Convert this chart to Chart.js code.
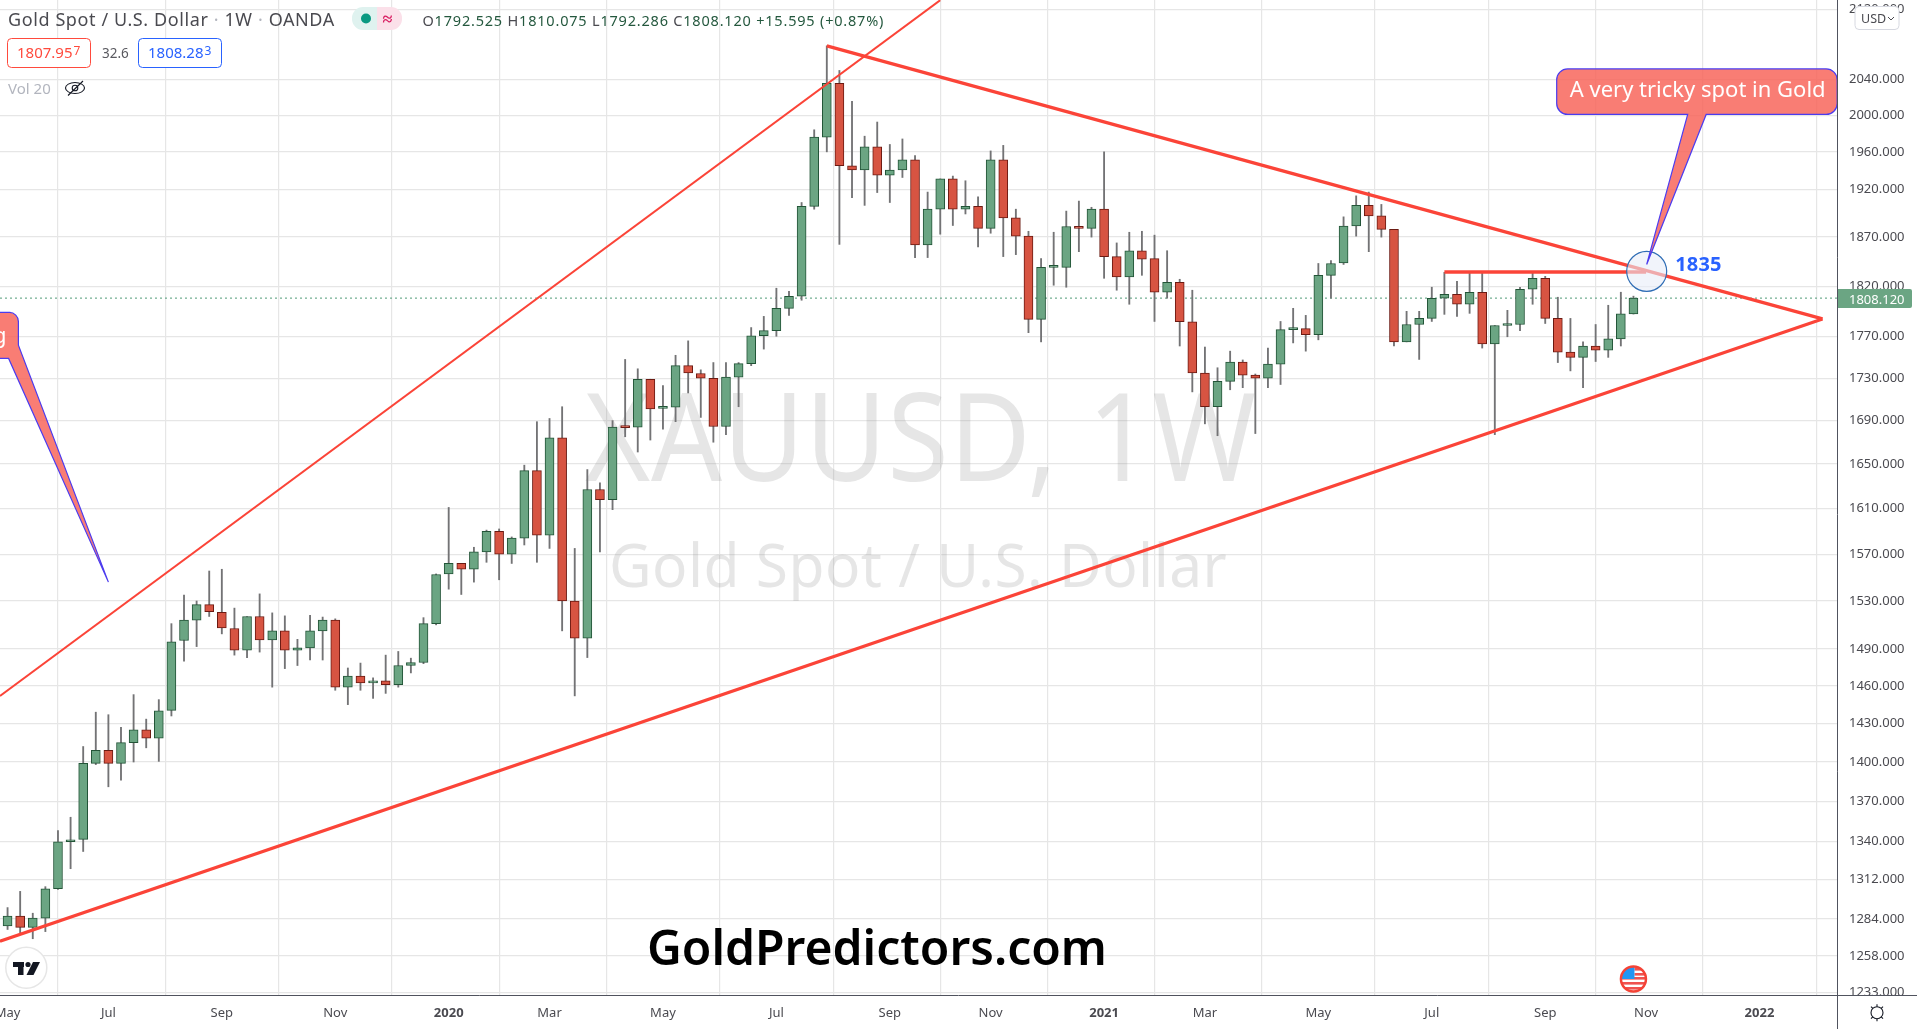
<!DOCTYPE html>
<html>
<head>
<meta charset="utf-8">
<title>Gold Spot / U.S. Dollar</title>
<script src="https://cdn.jsdelivr.net/npm/chart.js@4"></script>
<style>html,body{margin:0;padding:0;background:#fff;overflow:hidden}canvas{display:block}</style>
</head>
<body>
<canvas id="c" width="1917" height="1029"></canvas>
<script>
const opens = [1279,1286,1278,1284.5,1305.5,1339.8,1341.5,1399,1409,1399,1415,1425,1418.5,1440.5,1497,1514,1527,1520.5,1507,1489,1517,1497.5,1505,1489,1491,1505,1514,1459,1468,1462.5,1464,1461,1476.5,1479,1511,1553,1562,1557,1572,1590,1570,1584,1644,1586.5,1674,1530,1499,1627,1618,1684,1684,1729,1701.5,1702.5,1742,1734.5,1730,1684.5,1731,1744,1771,1776,1798,1810,1902,1976,2035.5,1945,1940.5,1965.5,1935,1940.5,1951.5,1862,1899,1931,1899,1902,1879,1951.5,1890,1871,1787,1839,1839,1881,1879,1899,1850,1829.5,1856,1848,1814,1824,1784.7,1735,1703,1727,1745.5,1733,1730,1743.5,1777,1778,1772,1831,1843.5,1881.5,1903,1892,1878,1765,1782,1788,1808,1812,1802,1814,1763,1781,1782,1817,1828,1788,1755,1750,1761,1757,1768,1792.525];
const highs = [1292,1303.6,1288,1307,1348,1358,1412,1439,1437,1427,1453,1433.5,1449,1511,1535,1530,1555.5,1557,1524,1517,1536,1520,1517.5,1498,1518,1516.5,1515,1474.5,1478.5,1466.5,1485,1488,1482.5,1516,1553,1611,1562,1576,1591,1592,1585,1649,1689,1692,1703,1575,1645,1633,1690,1748,1739,1729,1723,1752,1766,1738,1745,1745,1745,1779,1790,1818,1815,1906,1984,2078,2050,2015.5,1977,1992.5,1968,1974,1956,1917,1931,1934,1929,1912,1961,1967,1899,1876,1848,1875,1897,1907.5,1901,1960,1864,1875,1876,1872,1856,1827,1816,1760,1740,1756,1747.5,1734,1759,1785,1798,1791,1843,1846,1891,1913,1917,1904,1878,1795,1795,1819,1834,1825,1833,1833,1781,1796,1819,1833,1830,1809,1788,1765,1782,1801,1814,1810.075];
const lows = [1276.5,1274,1270,1275,1305,1320,1332.6,1398,1381,1386,1400,1411,1400.5,1436,1480,1492,1517,1502.5,1485,1483,1487.5,1459,1474,1476.5,1481,1481,1456.5,1445,1456.5,1450,1454,1459,1470.5,1478,1510,1540,1535.5,1546,1563,1548,1562,1578,1563,1575,1505,1452,1483,1572,1609,1675,1661,1672,1682,1689,1716,1693,1670,1677,1703,1742,1758,1770.5,1791,1806,1899,1960,1862.5,1911,1903,1916.5,1906,1932.5,1849,1849,1873,1882,1894,1860,1874,1850,1852,1774,1765,1821,1819,1855,1870,1828,1816,1802,1831,1785,1808,1761,1717,1687,1676,1719,1721,1678,1721,1724,1764,1756,1767,1808,1842,1871,1855,1870,1761,1765,1748,1785,1792,1790,1793,1759,1677,1770,1776,1802,1783,1745,1737,1721,1746,1750,1761,1792.286];
const closes = [1286,1278,1284.5,1305.5,1339.8,1341,1399,1409,1399,1415,1425,1418.5,1440,1496,1514,1527,1521,1507.5,1489,1517,1497.5,1505,1489,1491,1505,1514,1459,1468,1462.5,1464,1461,1476.5,1479,1511,1552.5,1562,1557,1572,1590,1570,1584,1644,1586.5,1674,1530,1499,1627,1618,1684,1683.5,1729,1701,1702.5,1742,1735,1730,1684.5,1731,1744,1771,1776,1798,1810,1902,1976,2035.5,1945,1940.5,1965.5,1935,1940.5,1951.5,1862,1899,1931,1899,1902,1879,1951.5,1890,1871,1787,1839,1839.5,1881,1879,1899,1850,1829.5,1856,1847.5,1814,1824,1784.7,1735,1703,1727,1745.5,1733,1730,1743.5,1777,1778,1772,1831,1843,1881.5,1903,1892,1878,1765,1782,1788,1808,1812,1802,1814,1763,1781,1782,1817,1828,1788,1755,1750,1761,1757,1768,1792.525,1808.12];
const priceTicks = [2120,2040,2000,1960,1920,1870,1820,1770,1730,1690,1650,1610,1570,1530,1490,1460,1430,1400,1370,1340,1312,1284,1258,1233];
const timeTickIndex = [0,8,17,26,35,43,52,61,70,78,87,95,104,113,122,130,139];
const timeTickNames = ['May','Jul','Sep','Nov','2020','Mar','May','Jul','Sep','Nov','2021','Mar','May','Jul','Sep','Nov','2022'];
const lastPrice = 1808.12;
const upperChannel = [[-0.6,1452],[74,2131]];
const resistance = [[65,2078],[144,1787.5]];
const support = [[-0.6,1268.3],[144,1787.5]];
const level1835 = [[114,1834.3],[130,1834.3]];
const lastPriceLine = [[-0.6,lastPrice],[145.15,lastPrice]];
const circleAnchor = [130.05,1835];
const tipRight = [130.05,1842];
const tipLeft = [8,1546];

const FONT = '"Noto Sans"';
const UP='#6BA583', UPB='#225437', DN='#D75442', DNB='#6B1A12', WICK='#737375', TREND='#FB4438';
const idx = opens.map((_,i)=>i);
const toPts = a => a.map(p=>({x:p[0],y:p[1]}));
const lineDs = (pts,w,extra)=>Object.assign({type:'line',data:toPts(pts),borderColor:TREND,borderWidth:w,pointRadius:0,fill:false,order:0,tension:0},extra||{});

function T(ctx,s,x,y,font,color,align,spacing){
  ctx.font=font;ctx.fillStyle=color;ctx.textAlign=align||'left';ctx.textBaseline='alphabetic';
  ctx.letterSpacing=(spacing||0)+'px';ctx.fillText(s,x,y);ctx.letterSpacing='0px';
}
function rr(ctx,x,y,w,h,r){ctx.beginPath();ctx.roundRect(x,y,w,h,r);}
function run(ctx,parts,x,y,font,spacing){
  parts.forEach(p=>{
    ctx.font=font;ctx.letterSpacing=spacing+'px';const w=ctx.measureText(p[0]).width;ctx.letterSpacing='0px';
    T(ctx,p[0],x,y,font,p[1],'left',spacing);x+=w;
  });
}

const furniture={
  id:'furniture',
  beforeDatasetsDraw(chart){
    const c=chart.ctx;c.save();
    c.save();c.translate(585,481);c.scale(0.912,1);T(c,'XAUUSD, 1W',0,0,'122px '+FONT,'rgba(130,130,130,0.2)','left',1);c.restore();
    c.save();c.translate(609,587);c.scale(0.96,1);T(c,'Gold Spot / U.S. Dollar',0,0,'61px '+FONT,'rgba(130,130,130,0.2)','left',0.5);c.restore();
    c.restore();
  },
  afterDatasetsDraw(chart){
    const c=chart.ctx,xs=chart.scales.x,ys=chart.scales.y;c.save();
    const cx=xs.getPixelForValue(circleAnchor[0]),cy=ys.getPixelForValue(circleAnchor[1]);
    c.beginPath();c.arc(cx,cy,20,0,Math.PI*2);c.fillStyle='rgba(232,236,248,0.6)';c.fill();
    c.strokeStyle='#2F6DB5';c.lineWidth=1.2;c.stroke();
    T(c,'1835',cx+28.5,cy-0.5,'bold 20px '+FONT,'#2962FF','left',0.2);
    const tx=xs.getPixelForValue(tipRight[0]),ty=ys.getPixelForValue(tipRight[1]);
    const bx=tx-90,by=ty-195.5,bw=280.5,bh=45.5,r=11;
    c.beginPath();
    c.moveTo(bx+r,by);c.lineTo(bx+bw-r,by);c.arcTo(bx+bw,by,bx+bw,by+r,r);c.lineTo(bx+bw,by+bh-r);c.arcTo(bx+bw,by+bh,bx+bw-r,by+bh,r);
    c.lineTo(tx+59.5,by+bh);c.lineTo(tx,ty);c.lineTo(tx+41,by+bh);
    c.lineTo(bx+r,by+bh);c.arcTo(bx,by+bh,bx,by+bh-r,r);c.lineTo(bx,by+r);c.arcTo(bx,by,bx+r,by,r);c.closePath();
    c.fillStyle='rgba(248,96,86,0.82)';c.fill();c.strokeStyle='#4B3CF0';c.lineWidth=1.2;c.stroke();
    T(c,'A very tricky spot in Gold',bx+13,by+28.5,'22px '+FONT,'#fff','left',0);
    const lx=xs.getPixelForValue(tipLeft[0]),ly=ys.getPixelForValue(tipLeft[1]);
    c.beginPath();
    c.moveTo(-60,ly-269.7);c.lineTo(lx-98,ly-269.7);c.arcTo(lx-90,ly-269.7,lx-90,ly-260,9);c.lineTo(lx-90,ly-237);c.lineTo(lx,ly);c.lineTo(lx-99.8,ly-223.7);c.lineTo(-60,ly-223.7);c.closePath();
    c.fillStyle='rgba(248,96,86,0.82)';c.fill();c.strokeStyle='#4B3CF0';c.lineWidth=1.2;c.stroke();
    T(c,'g',-7,ly-238.7,'22px '+FONT,'#fff');
    T(c,'GoldPredictors.com',647,964.5,'600 48px '+FONT,'#000','left',0);
    c.beginPath();c.arc(26.3,967.7,20.5,0,Math.PI*2);c.fillStyle='#fff';c.fill();c.strokeStyle='#E6E6E6';c.lineWidth=1.5;c.stroke();
    c.fillStyle='#131722';c.fillRect(13,962,11,5);c.fillRect(18,962,5.5,13);
    c.beginPath();c.arc(28,964.5,2.6,0,Math.PI*2);c.fill();
    c.beginPath();c.moveTo(33,962);c.lineTo(40,962);c.lineTo(33.5,975);c.lineTo(26.5,975);c.closePath();c.fill();
    const fx=xs.getPixelForValue(129),fy=979;
    c.save();c.beginPath();c.arc(fx,fy,12.5,0,Math.PI*2);c.clip();c.fillStyle='#fff';c.fillRect(fx-14,fy-14,28,28);
    c.fillStyle='#EF5350';for(let k=0;k<4;k++)c.fillRect(fx-14,fy-1+k*5-1,28,2.6);
    c.fillRect(fx+1,fy-6,14,2.6);c.fillRect(fx+1,fy-11,14,2.6);
    c.fillStyle='#2196F3';c.fillRect(fx-14,fy-14,15,14);c.restore();
    c.beginPath();c.arc(fx,fy,12.5,0,Math.PI*2);c.strokeStyle='#F44336';c.lineWidth=2.5;c.stroke();
    const G0='#4A4A50',dot='#B2B5BE';
    run(c,[['Gold Spot / U.S. Dollar ',G0],['·',dot],[' 1W ',G0],['·',dot],[' OANDA',G0]],8,25.5,'18px '+FONT,0.6);
    rr(c,352,7,25,23,[11,0,0,11]);c.fillStyle='#DFF2EF';c.fill();
    rr(c,377,7,25,23,[0,11,11,0]);c.fillStyle='#FBE0E9';c.fill();
    c.beginPath();c.arc(366,18.5,5,0,Math.PI*2);c.fillStyle='#089981';c.fill();
    T(c,'≈',382.5,25,'bold 18px '+FONT,'#D81B60');
    const V='#24583E';
    run(c,[['O',G0],['1792.525',V],[' H',G0],['1810.075',V],[' L',G0],['1792.286',V],[' C',G0],['1808.120',V],[' +15.595 (+0.87%)',V]],422.5,25.5,'14.5px '+FONT,0.8);
    rr(c,7.5,38.5,83,29,4);c.fillStyle='#fff';c.fill();c.strokeStyle='#FF4A3D';c.lineWidth=1;c.stroke();
    T(c,'1807.95',17,58,'15px '+FONT,'#FF4A3D');T(c,'7',73.5,55,'12px '+FONT,'#FF4A3D');
    T(c,'32.6',102,58,'13.5px '+FONT,'#5A5A60');
    rr(c,138.5,38.5,83,29,4);c.fillStyle='#fff';c.fill();c.strokeStyle='#2962FF';c.stroke();
    T(c,'1808.28',148,58,'15px '+FONT,'#2962FF');T(c,'3',204.5,55,'12px '+FONT,'#2962FF');
    T(c,'Vol 20',8,93.5,'15px '+FONT,'#B2B5BE');
    c.strokeStyle='#131722';c.lineWidth=1.1;c.beginPath();c.ellipse(75,88,9.5,5.5,0,0,Math.PI*2);c.stroke();
    c.beginPath();c.arc(75,88,2.8,0,Math.PI*2);c.stroke();c.beginPath();c.moveTo(68,95.5);c.lineTo(83,81);c.stroke();
    c.restore();
  },
  afterDraw(chart){
    const c=chart.ctx,a=chart.chartArea;c.save();
    c.fillStyle='#fff';c.fillRect(a.right+1,a.bottom,80,40);
    c.strokeStyle='#50535E';c.lineWidth=1;
    c.beginPath();c.moveTo(0,a.bottom+0.5);c.lineTo(1917,a.bottom+0.5);c.moveTo(a.right+0.5,0);c.lineTo(a.right+0.5,1029);c.stroke();
    const py=chart.scales.y.getPixelForValue(lastPrice);
    rr(c,a.right+1,py-9,74,19,[0,2,2,0]);c.fillStyle=UP;c.fill();
    T(c,lastPrice.toFixed(3),a.right+12,py+5.5,'13px '+FONT,'#fff');
    rr(c,1855,6.5,44,23,4);c.fillStyle='#fff';c.fill();c.strokeStyle='#D6D8E0';c.lineWidth=1;c.stroke();
    T(c,'USD',1861,23,'12.5px '+FONT,'#4A4A50');
    c.strokeStyle='#4A4A50';c.lineWidth=1;c.beginPath();c.moveTo(1888,17);c.lineTo(1891,20);c.lineTo(1894,17);c.stroke();
    const gx=1877,gy=1012.7;c.strokeStyle='#131722';c.lineWidth=1.1;c.beginPath();c.arc(gx,gy,6,0,Math.PI*2);c.stroke();
    c.beginPath();for(let k=0;k<4;k++){const t=k*Math.PI/2+Math.PI/4;c.moveTo(gx+Math.cos(t)*6,gy+Math.sin(t)*6);c.lineTo(gx+Math.cos(t)*8.5,gy+Math.sin(t)*8.5);}
    c.moveTo(gx,gy-6);c.lineTo(gx,gy-8.5);c.moveTo(gx,gy+6);c.lineTo(gx,gy+8.5);c.stroke();
    c.restore();
  }
};

new Chart(document.getElementById('c'),{
  type:'bar',
  data:{datasets:[
    lineDs(upperChannel,2),
    lineDs(resistance,3.2),
    lineDs(support,3.2),
    lineDs(level1835,3.6),
    lineDs(lastPriceLine,1,{borderColor:'#4F9A76',borderDash:[2,3],order:5}),
    {type:'bar',grouped:false,order:1,barThickness:9,minBarLength:2,borderSkipped:false,borderWidth:1,
     data:idx.map(i=>({x:i,y:[opens[i],closes[i]]})),
     backgroundColor:idx.map(i=>closes[i]>=opens[i]?UP:DN),
     borderColor:idx.map(i=>closes[i]>=opens[i]?UPB:DNB)},
    {type:'bar',grouped:false,order:2,barThickness:1.2,borderWidth:0,
     data:idx.map(i=>({x:i,y:[lows[i],highs[i]]})),
     backgroundColor:WICK}
  ]},
  plugins:[furniture],
  options:{
    responsive:false,animation:false,events:[],
    layout:{padding:0},
    plugins:{legend:{display:false},tooltip:{enabled:false},title:{display:false}},
    scales:{
      x:{type:'linear',min:-0.6,max:145.15,offset:false,
        grid:{color:'#E6E6E6',lineWidth:1.2,drawTicks:false},border:{display:false},
        ticks:{autoSkip:false,maxRotation:0,padding:10,color:'#4A4A50',
          font:ctx=>{const s=timeTickNames[timeTickIndex.indexOf(ctx.tick&&ctx.tick.value)]||'';return {family:FONT,size:13,weight:/^20/.test(s)?'bold':'normal'};},
          callback:v=>timeTickNames[timeTickIndex.indexOf(v)]},
        afterBuildTicks:s=>{s.ticks=timeTickIndex.map(v=>({value:v}));},
        afterFit:s=>{s.height=34;s.paddingLeft=0;s.paddingRight=0;}
      },
      y:{type:'logarithmic',position:'right',min:1231.2,max:2131.2,
        grid:{color:'#E6E6E6',lineWidth:1.2,drawTicks:false},border:{display:false},
        ticks:{autoSkip:false,padding:12,color:'#4A4A50',font:{family:FONT,size:13},callback:v=>Number(v).toFixed(3)},
        afterBuildTicks:s=>{s.ticks=priceTicks.map(v=>({value:v}));},
        afterFit:s=>{s.width=80;s.paddingTop=0;s.paddingBottom=0;}
      }
    }
  }
});
</script>
</body>
</html>
